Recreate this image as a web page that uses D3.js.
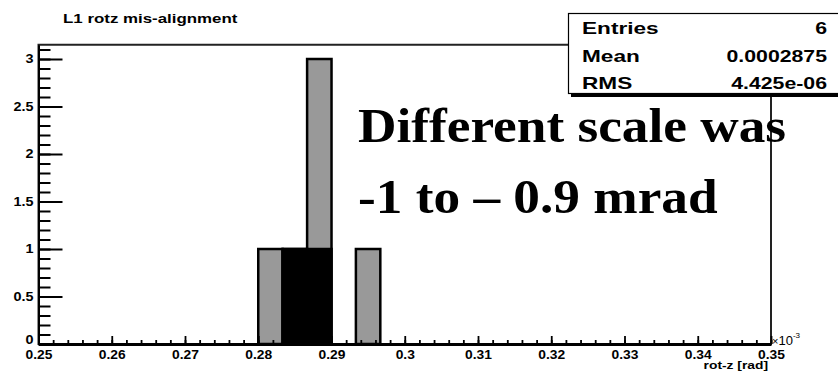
<!DOCTYPE html>
<html>
<head>
<meta charset="utf-8">
<script src="https://cdn.jsdelivr.net/npm/d3@7"></script>
<style>
  body { margin: 0; background: #fff; }
  svg { display: block; }
  text { font-family: "Liberation Sans", Arial, sans-serif; font-weight: bold; }
</style>
</head>
<body>
<div class="chart"></div>
<script>
// histogram bins (x in units of 1e-3 rad)
const binLow = [0.28, 0.28333, 0.28667, 0.29, 0.29333];
const binWidth = 0.1 / 30;
const counts = [1, 1, 3, 0, 1];
const darkCounts = [0, 1, 1, 0, 0];

const xMajor = [0.25, 0.26, 0.27, 0.28, 0.29, 0.3, 0.31, 0.32, 0.33, 0.34, 0.35];
const yMajor = [0, 0.5, 1, 1.5, 2, 2.5, 3];

const statNames = ['Entries', 'Mean', 'RMS'];
const statValues = ['6', '0.0002875', '4.425e-06'];

const W = 838, H = 372;
const svg = d3.select('.chart').append('svg').attr('width', W).attr('height', H);

const x = d3.scaleLinear([0.25, 0.35], [38.5, 771]);
const y = d3.scaleLinear([0, 3.15], [344, 344 - 3.15 * 95]);

// stretch text horizontally, the picture is wider than the fonts
function stretch(sel, k) {
  sel.each(function () {
    const w = this.getComputedTextLength();
    d3.select(this).attr('textLength', w * k).attr('lengthAdjust', 'spacingAndGlyphs');
  });
}

// title
svg.append('text')
  .attr('x', 63).attr('y', 23)
  .style('font-size', '13.5px')
  .text('L1 rotz mis-alignment')
  .call(stretch, 1.25);

// bars
const bars = svg.append('g');
bars.selectAll('rect.bin')
  .data(binLow.map((b, i) => ({ b, c: counts[i] })))
  .enter()
  .append('rect')
  .attr('class', 'bin')
  .attr('x', (d) => x(d.b))
  .attr('width', (d) => x(d.b + binWidth) - x(d.b))
  .attr('y', (d) => y(d.c))
  .attr('height', (d) => y(0) - y(d.c))
  .attr('fill', '#999')
  .attr('stroke', '#000')
  .attr('stroke-width', 2.5);

bars.selectAll('rect.dark')
  .data(binLow.map((b, i) => ({ b, c: darkCounts[i] })).filter((d) => d.c > 0))
  .enter()
  .append('rect')
  .attr('class', 'dark')
  .attr('x', (d) => x(d.b))
  .attr('width', (d) => x(d.b + binWidth) - x(d.b))
  .attr('y', (d) => y(d.c))
  .attr('height', (d) => y(0) - y(d.c))
  .attr('fill', '#000')
  .attr('stroke', '#000')
  .attr('stroke-width', 2.5);

// frame
svg.append('rect')
  .attr('x', x(0.25)).attr('y', y(3.15))
  .attr('width', x(0.35) - x(0.25)).attr('height', y(0) - y(3.15))
  .attr('fill', 'none').attr('stroke', '#222').attr('stroke-width', 2);

// x axis, ticks pointing inward
const xMinor = d3.range(0, 51).map((i) => 0.25 + i * 0.002);
svg.append('g')
  .attr('transform', `translate(0,${y(0)})`)
  .call(d3.axisBottom(x).tickValues(xMinor).tickSize(-4).tickFormat(''))
  .call((g) => g.select('.domain').remove())
  .selectAll('line').attr('stroke-width', 1.8);

const xAxis = svg.append('g')
  .attr('transform', `translate(0,${y(0)})`)
  .call(d3.axisBottom(x).tickValues(xMajor).tickSizeInner(-8).tickSizeOuter(0).tickPadding(14)
    .tickFormat((d) => String(+d.toFixed(2))));
xAxis.select('.domain').attr('stroke-width', 3);
xAxis.selectAll('line').attr('stroke-width', 1.8);
xAxis.selectAll('text').attr('dy', 0).attr('y', 14.5).style('font-size', '12px').call(stretch, 1.15);

// y axis, ticks pointing inward
const yMinor = d3.range(0, 32).map((i) => i * 0.1);
svg.append('g')
  .attr('transform', `translate(${x(0.25)},0)`)
  .call(d3.axisLeft(y).tickValues(yMinor).tickSize(-12).tickFormat(''))
  .call((g) => g.select('.domain').remove())
  .selectAll('line').attr('stroke-width', 2);

const yAxis = svg.append('g')
  .attr('transform', `translate(${x(0.25)},0)`)
  .call(d3.axisLeft(y).tickValues(yMajor).tickSizeInner(-24).tickSizeOuter(0).tickPadding(5)
    .tickFormat((d) => String(d)));
yAxis.select('.domain').attr('stroke-width', 2);
yAxis.selectAll('line').attr('stroke-width', 2);
yAxis.selectAll('text').style('font-size', '12px').call(stretch, 1.2);
// the "0" sits just above the first x label
yAxis.selectAll('text').filter((d) => d === 0).attr('dy', '-0.05em');

// exponent and axis title
const expo = svg.append('text').attr('x', 772).attr('y', 345).style('font-size', '13px').style('font-weight', 'normal');
expo.append('tspan').text('\u00d7').style('font-size', '11px');
expo.append('tspan').text('10');
expo.append('tspan').attr('dy', -7).style('font-size', '8px').text('-3');

svg.append('text')
  .attr('x', 768).attr('y', 369)
  .attr('text-anchor', 'end')
  .style('font-size', '11.5px')
  .text('rot-z [rad]')
  .call(stretch, 1.2);

// stats box
const box = svg.append('g');
box.append('rect').attr('x', 571).attr('y', 16).attr('width', 280).attr('height', 81).attr('fill', '#000');
box.append('rect').attr('x', 568.5).attr('y', 13.5).attr('width', 280).attr('height', 80)
  .attr('fill', '#fff').attr('stroke', '#000').attr('stroke-width', 1.2);

const rowY = [34, 62, 89];
box.selectAll('text.name')
  .data(statNames)
  .enter()
  .append('text')
  .attr('class', 'name')
  .attr('x', 582)
  .attr('y', (d, i) => rowY[i])
  .style('font-size', '17px')
  .text((d) => d)
  .call(stretch, 1.33);
box.selectAll('text.val')
  .data(statValues)
  .enter()
  .append('text')
  .attr('class', 'val')
  .attr('x', 827)
  .attr('y', (d, i) => rowY[i])
  .attr('text-anchor', 'end')
  .style('font-size', '17px')
  .text((d) => d)
  .call(stretch, 1.25);

// slide annotation
const note = svg.append('g').style('font-family', '"Liberation Serif", "Times New Roman", serif');
note.append('text').attr('x', 358).attr('y', 142)
  .style('font-size', '48px').style('font-family', 'inherit')
  .text('Different scale was').call(stretch, 1.11);
note.append('text').attr('x', 358).attr('y', 213)
  .style('font-size', '48px').style('font-family', 'inherit')
  .text('-1 to \u2013 0.9 mrad').call(stretch, 1.11);
</script>
</body>
</html>
